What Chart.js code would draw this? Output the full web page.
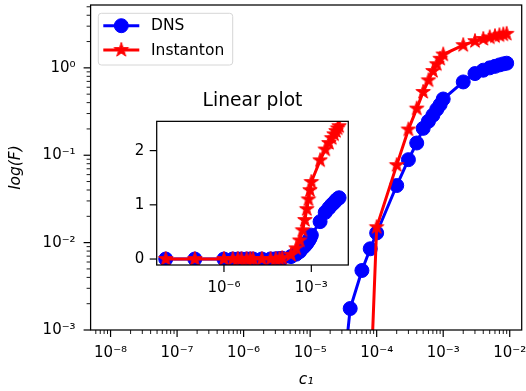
<!DOCTYPE html>
<html><head><meta charset="utf-8">
<script src="https://cdn.jsdelivr.net/npm/chart.js@4/dist/chart.umd.min.js"></script>
<style>
html,body{margin:0;padding:0;background:#fff;}
#wrap{position:relative;width:526px;height:391px;overflow:hidden;}
#main{position:absolute;left:0;top:0;}
#inset{position:absolute;left:100px;top:80px;}
</style></head><body>
<div id="wrap"><canvas id="main" width="526" height="391"></canvas><canvas id="inset" width="260" height="225"></canvas></div>
<script>
// ---- data ----
const c1 = [1e-8, 1e-7, 1e-6, 2e-6, 3e-6, 4e-6, 6e-6, 8e-6, 1e-5, 2e-5, 4e-5, 6e-5, 8e-5,
            1e-4, 2e-4, 3e-4, 4e-4, 5e-4, 6e-4, 7e-4, 8e-4, 9e-4,
            1e-3, 2e-3, 3e-3, 4e-3, 5e-3, 6e-3, 7e-3, 8e-3, 9e-3];
const dnsF = [1e-8, 1e-8, 2e-8, 4e-8, 6e-8, 1e-7, 2e-7, 4e-7, 1e-6, 1.1e-5, 1.76e-3, 4.8e-3, 8.5e-3,
              0.0129, 0.045, 0.089, 0.138, 0.203, 0.245, 0.287, 0.335, 0.38,
              0.44, 0.69, 0.86, 0.94, 1.0, 1.04, 1.08, 1.11, 1.13];
const instantonF = [1e-8, 1e-8, 2e-8, 3e-8, 5e-8, 8e-8, 1.5e-7, 3e-7, 6e-7, 2e-6, 8e-6, 3e-5, 1.8e-4,
                    0.015, 0.077, 0.197, 0.342, 0.53, 0.72, 0.92, 1.1, 1.27,
                    1.42, 1.82, 2.02, 2.14, 2.23, 2.3, 2.36, 2.41, 2.45];
const seriesNames = ['DNS', 'Instanton'];
const xMajorExps = [-8, -7, -6, -5, -4, -3, -2];
const xTickLabels = ['10⁻⁸', '10⁻⁷', '10⁻⁶', '10⁻⁵', '10⁻⁴', '10⁻³', '10⁻²'];
const yMajorExps = [-3, -2, -1, 0];
const yTickLabels = ['10⁻³', '10⁻²', '10⁻¹', '10⁰'];
const insetXTicks = [1e-6, 1e-3];
const insetXTickLabels = ['10⁻⁶', '10⁻³'];
const insetYTicks = [0, 1, 2];
const insetYTickLabels = ['0', '1', '2'];
const titles = {x: 'c₁', y: 'log(F)', inset: 'Linear plot'};

// ---- styling ----
const FONT = 'DejaVu Sans';
Chart.defaults.color = '#000';
Chart.defaults.font.family = FONT;
const BLUE = '#0000ff', RED = '#ff0000';

function makeStar(color, R) {
  const s = Math.ceil(R * 2 + 4);
  const c = document.createElement('canvas'); c.width = s; c.height = s;
  const g = c.getContext('2d');
  const r = R * 0.381966;
  g.beginPath();
  for (let i = 0; i < 10; i++) {
    const a = -Math.PI / 2 + i * Math.PI / 5;
    const rr = i % 2 ? r : R;
    g.lineTo(s / 2 + rr * Math.cos(a), s / 2 + rr * Math.sin(a));
  }
  g.closePath(); g.fillStyle = color; g.fill();
  g.strokeStyle = color; g.lineWidth = 1; g.stroke();
  return c;
}
const starImg = makeStar(RED, 7.6);

const pts = (ys) => c1.map((x, i) => ({x, y: ys[i]}));
function datasets() {
  return [
    {label: seriesNames[0], data: pts(dnsF), borderColor: BLUE, backgroundColor: BLUE, borderWidth: 3,
     pointStyle: 'circle', pointRadius: 7, pointBorderWidth: 1, pointHoverRadius: 7, tension: 0, clip: 0, order: 2},
    {label: seriesNames[1], data: pts(instantonF), borderColor: RED, backgroundColor: RED, borderWidth: 3,
     pointStyle: starImg, pointRadius: 8, pointHoverRadius: 8, tension: 0, clip: 0, order: 1}
  ];
}

function logTicks(minV, maxV, majorExps) {
  const out = [];
  const lo = Math.floor(Math.log10(minV)), hi = Math.ceil(Math.log10(maxV));
  for (let e = lo; e <= hi; e++) for (let m = 1; m <= 9; m++) {
    const v = m * Math.pow(10, e);
    if (v >= minV && v <= maxV) out.push({value: v, major: m === 1 && majorExps.includes(e)});
  }
  out.push({value: maxV, major: false, edge: true});
  return out;
}
function majorLabel(exps, labels) {
  return (value, index, ticks) => {
    const t = ticks[index];
    if (!t || !t.major) return '';
    return labels[exps.indexOf(Math.round(Math.log10(value)))] || '';
  };
}
const tickFont = (ctx) => ({size: 15, lineHeight: (ctx.tick && ctx.tick.major) ? 1.2 : 0.001});

const frameTicks = {
  id: 'frameTicks',
  beforeDatasetsDraw(chart, args, opts) {
    if (!opts.fill) return;
    const a = chart.chartArea, ctx = chart.ctx;
    ctx.save(); ctx.fillStyle = '#fff';
    ctx.fillRect(a.left, a.top, a.right - a.left, a.bottom - a.top); ctx.restore();
  },
  afterDraw(chart, args, opts) {
    const ctx = chart.ctx, a = chart.chartArea;
    ctx.save();
    ctx.strokeStyle = '#000';
    for (const s of Object.values(chart.scales)) {
      for (const t of s.ticks) {
        if (t.edge) continue;
        const p = s.getPixelForValue(t.value);
        const len = t.major ? opts.major : opts.minor;
        ctx.lineWidth = t.major ? 1.2 : 0.9;
        ctx.beginPath();
        if (s.isHorizontal()) {
          if (p < a.left - 0.5 || p > a.right + 0.5) continue;
          ctx.moveTo(p, a.bottom); ctx.lineTo(p, a.bottom + len);
        } else {
          if (p < a.top - 0.5 || p > a.bottom + 0.5) continue;
          ctx.moveTo(a.left, p); ctx.lineTo(a.left - len, p);
        }
        ctx.stroke();
      }
    }
    ctx.lineWidth = 1.25;
    ctx.strokeRect(a.left, a.top, a.right - a.left, a.bottom - a.top);
    ctx.restore();
  }
};

const mplLegend = {
  id: 'mplLegend',
  afterDraw(chart, args, opts) {
    if (!opts.show) return;
    const ctx = chart.ctx;
    ctx.save();
    const bx = 98.3, by = 13.3, bw = 134.4, bh = 51.7;
    ctx.beginPath(); ctx.roundRect(bx, by, bw, bh, 3);
    ctx.fillStyle = 'rgba(255,255,255,0.8)'; ctx.fill();
    ctx.strokeStyle = '#d6d6d6'; ctx.lineWidth = 1; ctx.stroke();
    const rows = [25.7, 50];
    chart.data.datasets.forEach((ds, i) => {
      const y = rows[i];
      ctx.strokeStyle = ds.borderColor; ctx.lineWidth = 3;
      ctx.beginPath(); ctx.moveTo(103.3, y); ctx.lineTo(139.3, y); ctx.stroke();
      if (ds.pointStyle === 'circle') {
        ctx.beginPath(); ctx.arc(121.3, y, 7, 0, Math.PI * 2);
        ctx.fillStyle = ds.backgroundColor; ctx.fill();
        ctx.lineWidth = 1; ctx.stroke();
      } else {
        const im = ds.pointStyle;
        ctx.drawImage(im, 121.3 - im.width / 2, y - im.height / 2);
      }
      ctx.fillStyle = '#000'; ctx.font = '15.5px "' + FONT + '"';
      ctx.textBaseline = 'middle'; ctx.textAlign = 'left';
      ctx.fillText(ds.label, 151, y + 0.5);
    });
    ctx.restore();
  }
};

// ---- main chart ----
const X_MIN = Math.pow(10, -8.3), X_MAX = Math.pow(10, -1.82);
const Y_MIN = 1e-3, Y_MAX = 5.24;
new Chart(document.getElementById('main'), {
  type: 'line',
  data: {datasets: datasets()},
  plugins: [frameTicks, mplLegend],
  options: {
    responsive: false, animation: false, devicePixelRatio: 1,
    layout: {autoPadding: false, padding: {left: 0, top: 5, right: 4.3, bottom: 0}},
    plugins: {legend: {display: false}, tooltip: {enabled: false},
              frameTicks: {major: 7, minor: 4, fill: false}, mplLegend: {show: true}},
    scales: {
      x: {type: 'logarithmic', min: X_MIN, max: X_MAX,
          grid: {display: false, drawTicks: true, tickLength: 14.5}, border: {display: false},
          afterBuildTicks: (s) => { s.ticks = logTicks(X_MIN, X_MAX, xMajorExps); },
          afterFit: (s) => { s.height = 61; },
          ticks: {autoSkip: false, maxRotation: 0, minRotation: 0, padding: 0,
                  font: tickFont, callback: majorLabel(xMajorExps, xTickLabels)},
          title: {display: true, text: titles.x, font: {size: 15.5, style: 'italic'},
                  padding: {top: 0, bottom: 1.7}}},
      y: {type: 'logarithmic', min: Y_MIN, max: Y_MAX,
          grid: {display: false, drawTicks: true, tickLength: 15}, border: {display: false},
          afterBuildTicks: (s) => { s.ticks = logTicks(Y_MIN, Y_MAX, yMajorExps); },
          afterFit: (s) => { s.width = 90.6; },
          ticks: {autoSkip: false, padding: 0, font: tickFont,
                  callback: majorLabel(yMajorExps, yTickLabels)},
          title: {display: true, text: titles.y, font: {size: 15.5, style: 'italic'},
                  padding: {top: 6.7, bottom: 0}}}
    }
  }
});

// ---- inset chart ----
const IX_MIN = Math.pow(10, -8.31), IX_MAX = Math.pow(10, -1.73);
const IY_MIN = -0.11, IY_MAX = 2.54;
new Chart(document.getElementById('inset'), {
  type: 'line',
  data: {datasets: datasets()},
  plugins: [frameTicks],
  options: {
    responsive: false, animation: false, devicePixelRatio: 1,
    layout: {autoPadding: false, padding: {left: 0, top: 0, right: 11.7, bottom: 0}},
    plugins: {legend: {display: false}, tooltip: {enabled: false},
              frameTicks: {major: 7, minor: 4, fill: true},
              title: {display: true, text: titles.inset, fullSize: false, color: '#000',
                      font: {size: 18.7, weight: 'normal'}, padding: {top: 10.2, bottom: 8.7}}},
    scales: {
      x: {type: 'logarithmic', min: IX_MIN, max: IX_MAX,
          grid: {display: false, drawTicks: true, tickLength: 14}, border: {display: false},
          afterBuildTicks: (s) => { s.ticks = insetXTicks.map(v => ({value: v, major: true})); },
          afterFit: (s) => { s.height = 40; },
          ticks: {autoSkip: false, maxRotation: 0, minRotation: 0, padding: 0, font: {size: 15},
                  callback: (v, i) => insetXTickLabels[i]}},
      y: {type: 'linear', min: IY_MIN, max: IY_MAX,
          grid: {display: false, drawTicks: true, tickLength: 12.5}, border: {display: false},
          afterBuildTicks: (s) => { s.ticks = insetYTicks.map(v => ({value: v, major: true})); },
          afterFit: (s) => { s.width = 56.7; },
          ticks: {autoSkip: false, padding: 0, font: {size: 15},
                  callback: (v, i) => insetYTickLabels[i]}}
    }
  }
});
</script>
</body></html>
